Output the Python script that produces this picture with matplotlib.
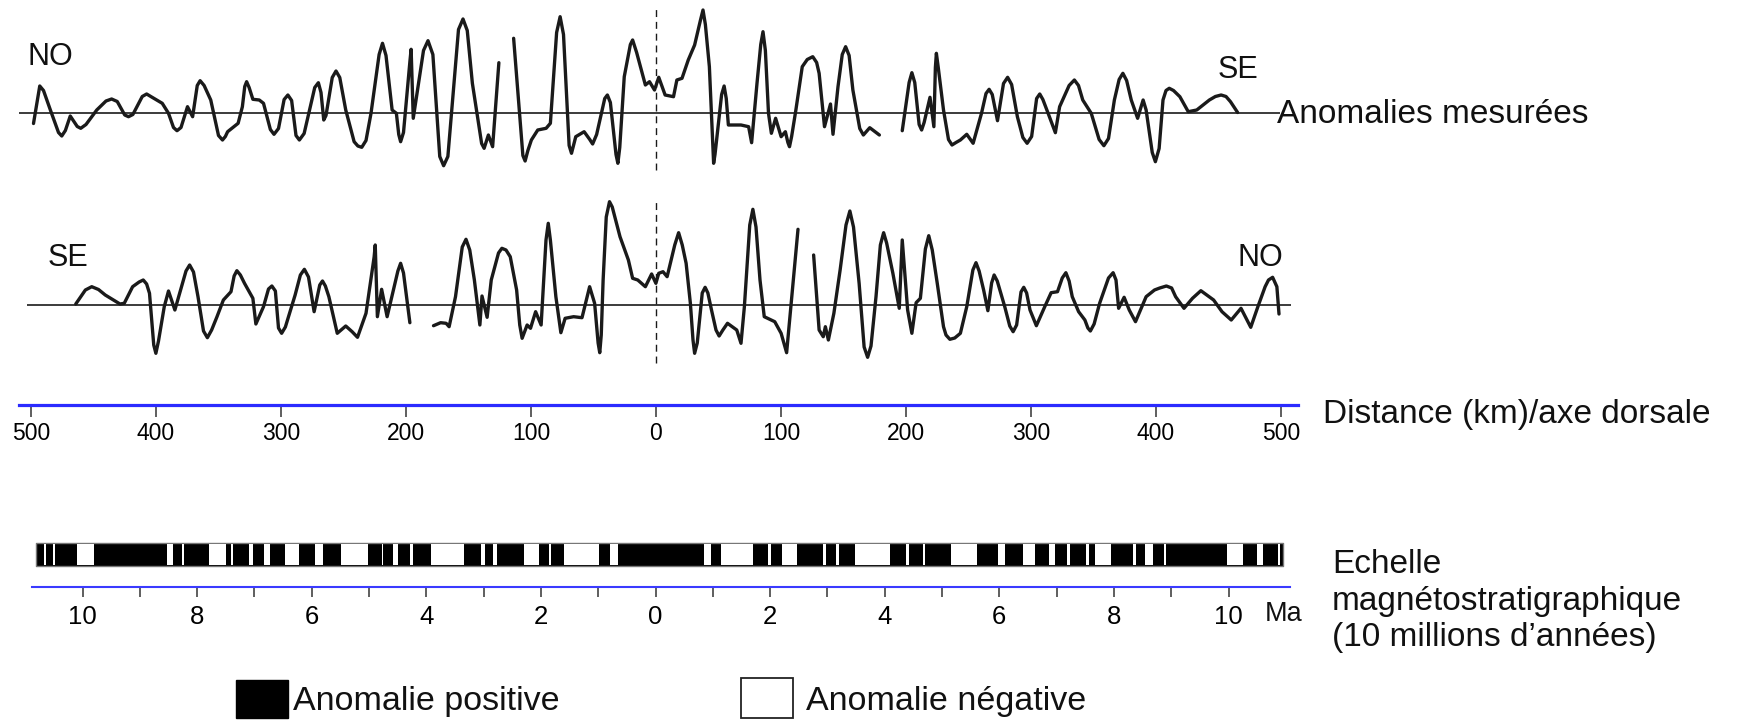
import numpy as np
import matplotlib
matplotlib.use("Agg")
import matplotlib.pyplot as plt
from matplotlib.patches import Rectangle

# ---------------- data (distance in km from ridge axis, anomaly in nT) -------------
# measured profile (NO on the left, SE on the right), three pieces
top_seg1 = [(-498, -11), (-493, 26.5), (-490, 22), (-484.5, 2.5), (-478, -20), (-475.4, -23.5),
            (-472.5, -18), (-468.6, -3.5), (-463, -14), (-460.2, -15.8), (-456, -12),
            (-447.4, 2.5), (-440, 11.5), (-435.5, 13.5), (-431, 11), (-425, -2.5), (-422, -4.2),
            (-418.5, -2), (-411, 16), (-407.5, 18.5), (-403.5, 15.5), (-395, 9.2), (-390, -0.8),
            (-386, -15), (-383.2, -18.2), (-380, -15), (-374.8, 5.8), (-370.7, -4.2), (-367, 27),
            (-364.7, 31.8), (-361.5, 27), (-356.2, 12.5), (-350, -23), (-346.8, -27.5),
            (-344.5, -24), (-342.7, -19.2), (-334.3, -10.8), (-330.9, 5.8), (-329, 26),
            (-327.5, 30.8), (-325.5, 25), (-322.5, 13.2), (-317.4, 12.5), (-314, 9.2),
            (-308.5, -17), (-305.6, -21.8), (-302, -16), (-297.5, 13), (-294.5, 17.5),
            (-291.5, 12), (-288, -23), (-285.3, -27.5), (-281.5, -21), (-273, 25), (-270.1, 29.8),
            (-268, 20), (-265.8, -7.5), (-264, -3), (-259, 35), (-256, 41.5), (-253, 35),
            (-248.2, 2.5), (-241.5, -29.2), (-238.5, -33.5), (-235.4, -34.8), (-232, -28),
            (-228, -0.8), (-221.5, 58), (-218.8, 69.2), (-216, 57), (-211.1, 2.5), (-207.7, -0.8),
            (-205.8, -22), (-204.3, -29.2), (-202, -20), (-196.8, 52), (-195.9, 63.2),
            (-194.2, -5.8), (-186, 62), (-182.4, 71.8), (-178.5, 58), (-173, -44), (-169.9, -53.2),
            (-166.5, -44), (-158, 83), (-154.4, 93.5), (-151, 82), (-146.9, 29.2), (-139.5, -31),
            (-137.5, -35.8), (-134.1, -22.5), (-130.7, -34.2), (-125.7, 49.8)]
top_seg2 = [(-113.9, 74.2), (-106.5, -43), (-104.7, -48.5), (-102.5, -38), (-99.7, -27.5),
            (-94.6, -17.5), (-87.9, -15.8), (-84.5, -10.8), (-79.5, 80), (-76.7, 95.8), (-74, 78),
            (-69.5, -33), (-67.6, -40.8), (-66, -33), (-64.2, -24.2), (-57.5, -19.2), (-53, -27),
            (-50.7, -31.5), (-47.5, -22), (-41, 14), (-38.9, 17.5), (-36.5, 10), (-32, -42),
            (-30.5, -50.8), (-29, -35), (-25.4, 35.8), (-20.5, 68), (-18.7, 72.5), (-15.5, 60),
            (-8.5, 27.5), (-5.2, 30.8), (-1.2, 22.5), (2.2, 35.2), (7.3, 17.5), (14, 15.8),
            (16.7, 32.5), (20.8, 34.2), (25.8, 52.5), (30.9, 67.5), (35.5, 92), (37.6, 102.5),
            (39.5, 88), (42.7, 45.8), (46.1, -50.8), (47.2, -42), (52.5, 18), (54.5, 26.5),
            (56.2, 14), (57.9, -12.5), (68, -12.5), (74.1, -14.2), (76.5, -30.2), (80.8, 29.2),
            (83.8, 68), (85.6, 80.8), (87.5, 62), (90, -0.8), (92.3, -20.8), (95.7, -5.8),
            (100.1, -24.2), (103.5, -19.2), (105.5, -30), (106.8, -34.2), (108.5, -24),
            (111.9, 2.5), (117, 45.8), (121, 53), (125.4, 55.8), (128.5, 50), (130.5, 39.2),
            (134.8, -14.2), (139.6, 8.5), (141.6, -21.8), (145.6, 25.8), (149, 58), (151.7, 65.8),
            (154.5, 57), (157.5, 22.5), (163, -16), (165.9, -22.5), (171, -15.2), (178.7, -22.5)]
top_seg3 = [(197, -18.2), (202.5, 30), (204.7, 39.8), (207, 30), (210.5, -12), (212.5, -17.5),
            (214.5, -10), (219.2, 15.2), (222.3, -14.2), (223.5, 45), (224.3, 59.2), (225.8, 45),
            (230, 2.5), (234, -27), (236.8, -32.5), (240, -30), (243.5, -27.5), (248.6, -21.8),
            (253.7, -30.8), (260.4, -0.8), (264, 19), (266.5, 23.2), (269, 18), (273.2, -8.2),
            (278, 29), (281.3, 35.2), (284.5, 28), (289.1, -4.2), (293.5, -25), (296.9, -30.8),
            (300.5, -24), (304.5, 14), (307, 18.5), (309.5, 13), (313.7, -0.8), (319.5, -20.2),
            (322.9, 5.8), (330.5, 27), (334.7, 32.5), (338, 27), (341.4, 12.5), (348.2, -0.8),
            (354.5, -27), (358.3, -33.2), (362, -26), (366.7, 12.5), (370.5, 33), (373.5, 39.2),
            (376.5, 32), (380.2, 12.5), (385.3, -5.8), (389.7, 12.5), (392.1, 2.5), (397, -40),
            (399.5, -49.2), (402.5, -36), (405.6, 12.5), (408, 22), (410.6, 24.2), (414, 22),
            (419.1, 15.8), (425.8, 0.8), (432.6, 2.5), (442.7, 12.5), (447.5, 16), (452.1, 17.5),
            (456, 16), (459.6, 10.8), (465.3, 0)]

# mirrored profile (SE on the left, NO on the right)
bot_seg1 = [(-464.2, 1), (-456.5, 15), (-451.4, 18.3), (-446, 15.5), (-440.6, 10), (-428.8, 1),
            (-425.4, 1.7), (-418.7, 18.3), (-413.5, 23), (-410.2, 25), (-407.5, 21),
            (-405.2, 11.7), (-401.8, -40), (-400.1, -48.3), (-398, -36), (-393.4, -1.7),
            (-390, 14), (-384.9, -5), (-376, 34), (-373.1, 40), (-370, 33), (-366.4, 8.3),
            (-362, -26), (-358.9, -32.7), (-355.5, -25), (-351.2, -11.7), (-346.1, 5),
            (-340, 13.3), (-337.5, 29), (-335.3, 34.3), (-332.5, 30), (-329.2, 21.7),
            (-322.5, 6.7), (-320.1, -19), (-314, -1.7), (-310, 16), (-307.3, 19), (-304.5, 14),
            (-302, -23), (-299.5, -28.3), (-296.5, -22), (-288.7, 10), (-284.5, 30),
            (-281.3, 35.7), (-278, 28), (-273.5, -6.7), (-269, 20), (-266.8, 24), (-264.5, 19),
            (-261.7, 8.3), (-255, -28.3), (-248.2, -21), (-243.1, -26.7), (-238.8, -32.3),
            (-232, -8.3), (-225.5, 48), (-224.6, 60), (-222.9, -11.7), (-219.5, 15.7),
            (-215.1, -11.7), (-206.5, 34), (-204.3, 41.7), (-202, 32), (-196.9, -17.7)]
bot_seg2 = [(-178, -20.7), (-172.3, -17.7), (-167.9, -18.3), (-165.5, -21.7), (-160.4, 8.3),
            (-155, 58), (-152, 65.7), (-149, 55), (-145.3, 25), (-140.9, -20), (-139.2, 9),
            (-135.1, -12.3), (-131.8, 25), (-126, 52), (-123.3, 56.7), (-120, 55), (-116.6, 48.3),
            (-111.5, 15), (-109, -20), (-107.1, -33.3), (-103.1, -20), (-100.4, -23.3),
            (-96.3, -6.7), (-91.9, -20), (-88, 65), (-86.2, 81.7), (-84.5, 65), (-80.1, 8.3),
            (-76.1, -27.7), (-72.7, -13.3), (-65.9, -11.7), (-59.2, -12.7), (-53.1, 18.3),
            (-49.1, 1.7), (-46.3, -38), (-45, -47.7), (-43.8, -30), (-42.3, 25), (-39.8, 88),
            (-37.2, 103.3), (-35, 98), (-28.8, 68.3), (-22.1, 45), (-18.7, 26.7), (-14.6, 25),
            (-8.5, 18.3), (-3.5, 31), (-0.1, 21.7), (2.2, 31.7), (5.6, 33.3), (8.9, 28.3),
            (15, 60), (18.1, 72.3), (21, 60), (24.1, 41.7), (27.5, 1.7), (29.6, -35),
            (30.9, -48.3), (33, -38), (37, 12), (39.3, 17.7), (41.5, 12), (44.4, -5), (48, -25),
            (50.5, -31), (53.5, -25), (57.2, -18.3), (64.6, -25), (68, -38.3), (70.7, -1.7),
            (75, 80), (77.5, 95.7), (80, 78), (83.2, 25), (86.6, -11.7), (95, -16.7),
            (100.1, -28.3), (104.5, -47.7), (113.6, 75.7)]
bot_seg3 = [(126.1, 50), (130.5, -25), (133.8, -31.7), (135.5, -21.7), (137.9, -35),
            (142.3, -8.3), (147.3, 35), (152, 80), (155.1, 94), (158, 78), (162.5, 21.7),
            (166.5, -42), (169.3, -52.3), (172, -41), (176, 8.3), (179.5, 60), (182.1, 72.3),
            (184.5, 62), (189.5, 31.7), (194.6, -3.3), (197, 65), (201.3, -5), (204.7, -28.3),
            (208.1, 2.3), (211.5, 6.7), (215.5, 56), (218.2, 69.3), (221, 55), (225, 21.7),
            (230, -21.7), (232, -30), (235.1, -34.3), (239, -33), (243.5, -28.3), (248.6, -1.7),
            (253.5, 35), (256, 42.3), (258.5, 34), (262.1, 15), (265.5, -5.7), (268.5, 22),
            (270.5, 30), (273, 24), (279, -1.7), (283, -21), (285.7, -26.7), (288.5, -20),
            (292, 13), (294.2, 17.7), (296.5, 12), (299.2, -5), (304.3, -20.7), (311, -1.7),
            (316.1, 12.3), (321.2, 13.3), (325, 27), (327.9, 32.3), (330.5, 24), (333, 8.3),
            (338.1, -6.7), (343.1, -15), (345.5, -23), (347.5, -26), (350.5, -19), (354.9, 1.7),
            (362, 27), (365.7, 32.3), (368, 25), (370.1, -3.3), (374.5, 7.7), (378.6, -5),
            (383.6, -16.7), (392.1, 8.3), (398.8, 15), (403, 17), (408.3, 19), (412.5, 17),
            (415.7, 8.3), (422.4, -3.3), (429.2, 6.7), (435.9, 14.3), (446.1, 5), (452.8, -6.7),
            (460.2, -15), (468, -3.3), (475.8, -22.3), (481.5, -1.7), (487.3, 18.3), (490, 25),
            (493.3, 27.7), (496.7, 18.3), (498.4, -9)]

dist_ticks = [-500, -400, -300, -200, -100, 0, 100, 200, 300, 400, 500]
ma_ticks = list(range(-10, 11))

# reversed-polarity (negative anomaly) intervals, ages in Ma
neg_left = [(10.64, 10.67), (10.48, 10.51), (9.80, 10.09), (8.42, 8.52), (8.23, 8.27),
            (7.50, 7.79), (7.37, 7.41), (7.02, 7.09), (6.72, 6.84), (6.23, 6.46), (5.80, 5.94),
            (5.02, 5.48), (4.75, 4.78), (4.49, 4.58), (4.23, 4.28), (3.35, 3.92), (2.98, 3.04),
            (2.76, 2.84), (2.03, 2.30), (1.83, 1.86), (0.99, 1.59), (0.66, 0.80)]
neg_right = [(0.84, 0.97), (1.15, 1.71), (1.96, 2.02), (2.20, 2.47), (2.93, 2.97),
             (3.15, 3.21), (3.48, 4.09), (4.37, 4.42), (4.66, 4.71), (5.16, 5.61), (5.97, 6.10),
             (6.42, 6.62), (6.86, 6.97), (7.18, 7.23), (7.52, 7.56), (7.67, 7.95), (8.33, 8.38),
             (8.54, 8.68), (8.87, 8.91), (9.98, 10.26), (10.50, 10.61), (10.87, 10.90)]
bar_age_left, bar_age_right = 10.82, 10.95

# ---------------- layout ----------------
W, H = 1737, 720
KM0, KM_PX = 656.0, 1.25      # pixel of the ridge axis, pixels per km
MA0, MA_PX = 655.5, 57.3      # pixel of 0 Ma, pixels per Ma
km_lim = (-KM0 / KM_PX, (W - KM0) / KM_PX)
ma_lim = (-MA0 / MA_PX, (W - MA0) / MA_PX)


def px2km(x):
    return (x - KM0) / KM_PX


def px2ma(x):
    return (x - MA0) / MA_PX


REG = "Liberation Sans"
INK = "#1a1a1a"

fig = plt.figure(figsize=(W / 100, H / 100), dpi=100)


def band(top, bottom):
    ax = fig.add_axes([0, 1 - bottom / H, 1, (bottom - top) / H])
    ax.patch.set_visible(False)
    return ax


def profile(top, bottom, base, segs, x0, x1, d0, d1):
    ax = band(top, bottom)
    ax.set_xlim(km_lim)
    ax.set_ylim(base - bottom, base - top)
    ax.axis("off")
    ax.hlines(0, px2km(x0), px2km(x1), color=INK, lw=1.2)
    ax.vlines(0, base - d1, base - d0, color=INK, lw=1.0, linestyles=(0, (5, 3.5)))
    for seg in segs:
        km, nt = np.array(seg).T
        ax.plot(km, nt, color=INK, lw=2.4, solid_joinstyle="round", solid_capstyle="round")
    return ax


profile(0, 200, 112.5, [top_seg1, top_seg2, top_seg3], 19, 1280, 7, 170)
profile(190, 380, 305, [bot_seg1, bot_seg2, bot_seg3], 27, 1291, 200, 363)

# distance axis
axd = band(380, 405)
axd.set_xlim(km_lim)
axd.set_ylim(0, 1)
for s in ["top", "left", "right"]:
    axd.spines[s].set_visible(False)
axd.spines["bottom"].set_color("#2b2bff")
axd.spines["bottom"].set_linewidth(2.3)
axd.spines["bottom"].set_bounds(px2km(19), px2km(1298))
axd.set_yticks([])
axd.set_xticks(dist_ticks)
axd.set_xticklabels([str(abs(t)) for t in dist_ticks], fontfamily=REG, fontsize=16.5)
axd.tick_params(axis="x", direction="out", length=8.6, width=1.1, color="#333", pad=3.5)

# magnetostratigraphic bar
axb = band(541, 568)
axb.set_xlim(ma_lim)
axb.set_ylim(-2 / 23, 1 + 2 / 23)
axb.axis("off")
axb.broken_barh([(-bar_age_left, bar_age_left + bar_age_right)], (0, 1),
                facecolors="black", edgecolors="#777", lw=1)
axb.broken_barh([(-b, b - a) for a, b in neg_left], (0.05, 0.9), facecolors="white")
axb.broken_barh([(a, b - a) for a, b in neg_right], (0.05, 0.9), facecolors="white")

# Ma axis
axm = band(570, 587)
axm.set_xlim(ma_lim)
axm.set_ylim(0, 1)
for s in ["top", "left", "right"]:
    axm.spines[s].set_visible(False)
axm.spines["bottom"].set_color("#3a3aff")
axm.spines["bottom"].set_linewidth(1.5)
axm.spines["bottom"].set_bounds(px2ma(32), px2ma(1290))
axm.set_yticks([])
axm.set_xticks(ma_ticks)
axm.set_xticklabels([str(abs(t)) if t % 2 == 0 else "" for t in ma_ticks],
                    fontfamily=REG, fontsize=18.5)
axm.tick_params(axis="x", direction="out", length=7.2, width=1.1, color="#333", pad=6)

# texts and legend in pixel coordinates
ov = fig.add_axes([0, 0, 1, 1])
ov.set_xlim(0, W)
ov.set_ylim(H, 0)
ov.axis("off")
ov.patch.set_visible(False)


def label(x, y, s, size=24):
    ov.text(x, y, s, fontsize=size, fontfamily=REG, va="baseline", ha="left", color="#111")


label(27, 65, "NO", 22)
label(1218, 78, "SE", 22)
label(48, 266, "SE", 22)
label(1237, 266, "NO", 22)
label(1277, 123, "Anomalies mesurées")
label(1323, 423, "Distance (km)/axe dorsale")
label(1265, 621, "Ma", 19.5)
label(1332, 573, "Echelle")
label(1332, 610, "magnétostratigraphique")
label(1332, 646, "(10 millions d\u2019années)")

ov.add_patch(Rectangle((236, 680), 52, 38, facecolor="black", edgecolor="black", lw=1))
ov.add_patch(Rectangle((741, 678), 52, 40, facecolor="white", edgecolor="#222", lw=1.3))
label(293, 710, "Anomalie positive", 24.5)
label(806, 710, "Anomalie négative", 24.5)

fig.savefig("out.png", dpi=100)
